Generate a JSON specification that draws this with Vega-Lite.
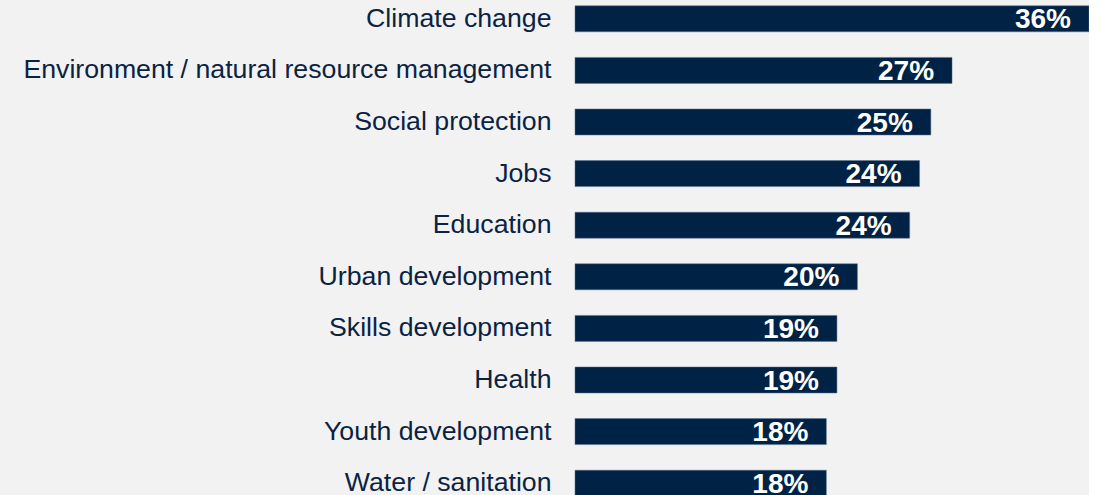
{
  "$schema": "https://vega.github.io/schema/vega-lite/v6.json",
  "autosize": {"type": "none"},
  "padding": {"left": 575, "top": 0, "right": 0, "bottom": 0},
  "width": 514,
  "height": 495,
  "background": "#f2f2f2",
  "config": {"view": {"stroke": null}, "font": "Liberation Sans"},
  "data": {
    "values": [
      {"topic": "Climate change", "value": 36.4, "label": "36%"},
      {"topic": "Environment / natural resource management", "value": 26.7, "label": "27%"},
      {"topic": "Social protection", "value": 25.2, "label": "25%"},
      {"topic": "Jobs", "value": 24.4, "label": "24%"},
      {"topic": "Education", "value": 23.7, "label": "24%"},
      {"topic": "Urban development", "value": 20.0, "label": "20%"},
      {"topic": "Skills development", "value": 18.55, "label": "19%"},
      {"topic": "Health", "value": 18.55, "label": "19%"},
      {"topic": "Youth development", "value": 17.8, "label": "18%"},
      {"topic": "Water / sanitation", "value": 17.8, "label": "18%"}
    ]
  },
  "encoding": {
    "y": {
      "field": "topic", "type": "nominal", "sort": null,
      "scale": {"range": [-7, 509], "paddingInner": 0.496, "paddingOuter": 0.248},
      "axis": {"title": null, "domain": false, "ticks": false, "labelFontSize": 26.7, "labelColor": "#0b2343", "labelPadding": 24, "labelLimit": 600}
    },
    "x": {
      "field": "value", "type": "quantitative",
      "scale": {"domain": [0, 36.4], "nice": false, "zero": true},
      "axis": null
    }
  },
  "layer": [
    {"mark": {"type": "bar", "color": "#002244", "stroke": "#5a7090", "strokeWidth": 0.5}},
    {"mark": {"type": "text", "align": "right", "baseline": "middle", "dx": -18, "dy": 1.5, "fontSize": 28, "fontWeight": "bold", "color": "white"},
     "encoding": {"text": {"field": "label"}}}
  ]
}
